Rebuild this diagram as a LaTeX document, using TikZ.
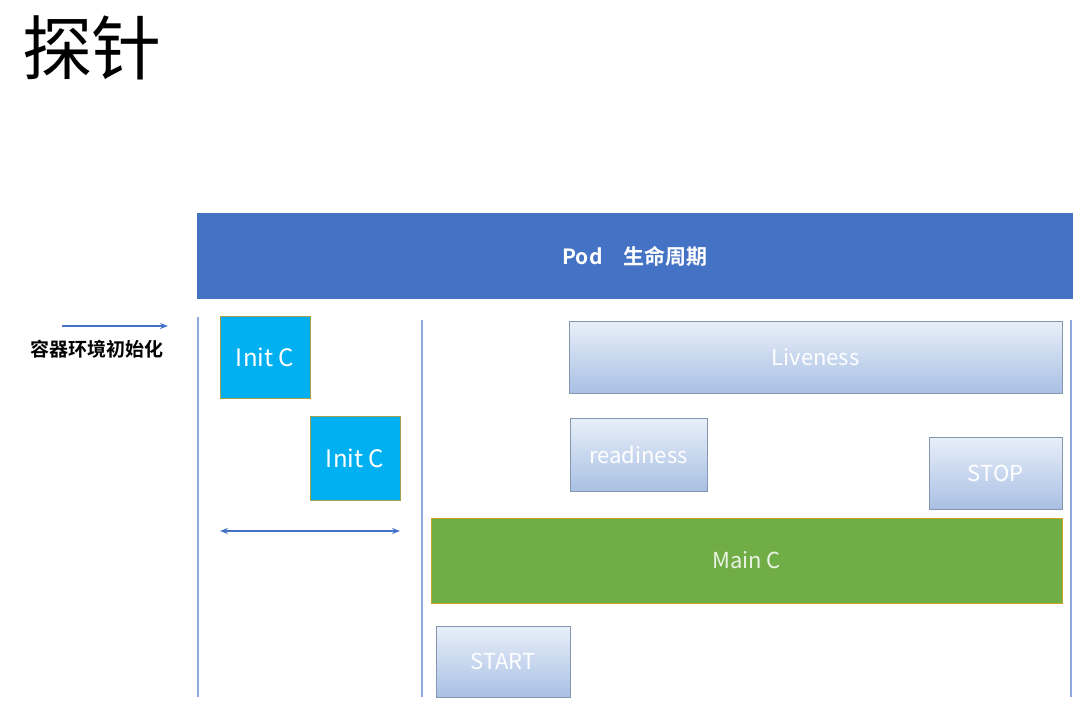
\documentclass[tikz,border=0pt]{standalone}
\usepackage{fontspec}
\setmainfont{Noto Sans CJK SC}[BoldFont={Noto Sans CJK SC Bold}]
\usetikzlibrary{arrows.meta,positioning}
\definecolor{podblue}{HTML}{4472C4}
\definecolor{initblue}{HTML}{00B0F0}
\definecolor{initedge}{HTML}{A5A04A}
\definecolor{maingreen}{HTML}{70AD47}
\definecolor{mainedge}{HTML}{C9A227}
\definecolor{probetop}{HTML}{E8EFF9}
\definecolor{probebot}{HTML}{A9C0E4}
\definecolor{probeedge}{HTML}{8497B0}
\definecolor{lanecol}{HTML}{8EA9DB}

\begin{document}
\begin{tikzpicture}[x=0.5pt,y=-0.5pt,>=Stealth,
 initc/.style={draw=initedge,fill=initblue,text=white,inner sep=0pt,font=\fontsize{12}{14}\selectfont},
 probe/.style={draw=probeedge,top color=probetop,bottom color=probebot,text=white,inner sep=0pt,font=\fontsize{11}{13}\selectfont},
 lane/.style={draw=lanecol,line width=0.8pt}]
\useasboundingbox (0,0) rectangle (1077,708);
\node (title) at (92,48) {\fontsize{35}{40}\selectfont 探针};
\node[fill=podblue,text=white,inner sep=0pt,minimum width=438pt,minimum height=43pt,font=\bfseries\fontsize{10.5}{12}\selectfont] (pod) at (635,256) {Pod\hspace{1em}生命周期};
\node[font=\bfseries\fontsize{9.5}{11}\selectfont] (init) at (97,349) {容器环境初始化};
\coordinate (ia) at (62,326); \coordinate (ib) at (168,326);
\draw[->,draw=podblue,line width=0.6pt,>={Stealth[length=4pt]}] (ia) -- (ib);
% lanes
\coordinate (l1a) at (198,317); \coordinate (l1b) at (198,697);
\coordinate (l2a) at (422,320); \coordinate (l2b) at (422,697);
\coordinate (l3a) at (1071,320); \coordinate (l3b) at (1071,697);
\draw[lane] (l1a) -- (l1b);
\draw[lane] (l2a) -- (l2b);
\draw[lane] (l3a) -- (l3b);
% init containers
\node[initc,minimum width=45pt,minimum height=41pt] (c1) at (265,357) {Init C};
\node[initc,minimum width=45pt,minimum height=42pt] (c2) at (355,458) {Init C};
\coordinate (da) at (220,531); \coordinate (db) at (400,531);
\draw[<->,draw=podblue,line width=0.6pt,>={Stealth[length=4pt]}] (da) -- (db);
% probes
\node[probe,minimum width=246.5pt,minimum height=36pt] (live) at (815.5,357) {Liveness};
\node[probe,minimum width=68.5pt,minimum height=36.5pt] (ready) at (638.5,454.5) {readiness};
\node[probe,minimum width=66.5pt,minimum height=36pt] (stop) at (995.5,473) {STOP};
\node[draw=mainedge,fill=maingreen,text=white!85!maingreen,inner sep=0pt,minimum width=315.5pt,minimum height=42.5pt,font=\fontsize{11}{13}\selectfont] (main) at (746.5,560.5) {Main C};
\node[probe,minimum width=67pt,minimum height=35.5pt] (start) at (503,661.5) {START};
\end{tikzpicture}
\end{document}
